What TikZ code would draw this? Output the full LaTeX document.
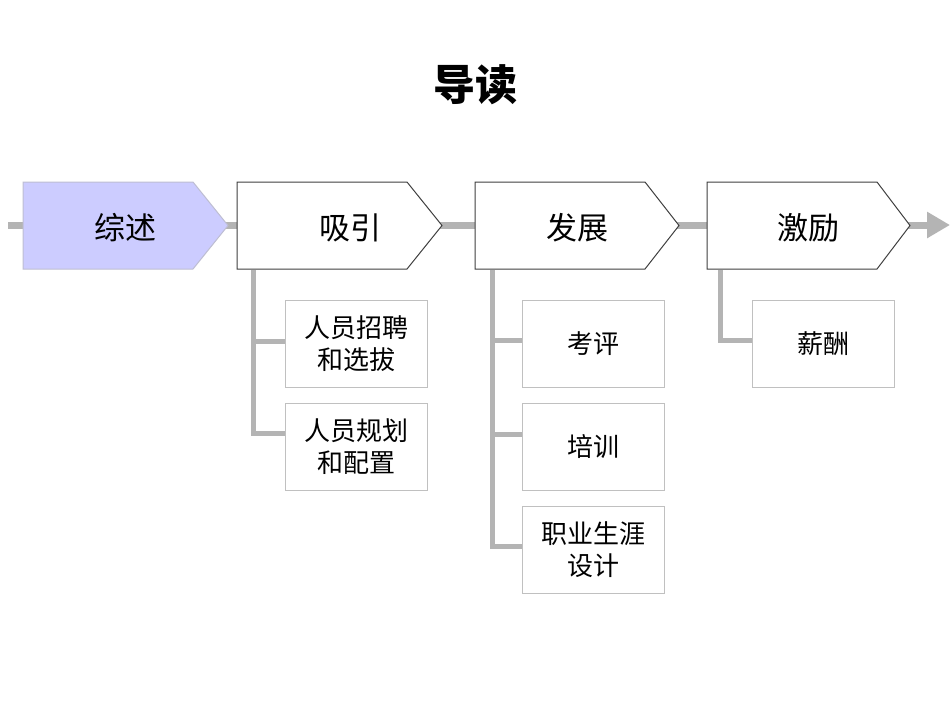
\documentclass[tikz,border=0pt]{standalone}
\usepackage{fontspec}
\setmainfont{Noto Sans CJK SC}
\usetikzlibrary{arrows.meta}
\definecolor{lineg}{RGB}{180,180,180}
\definecolor{lav}{RGB}{204,204,255}
\definecolor{lavedge}{RGB}{190,190,210}
\definecolor{darkedge}{RGB}{64,64,64}
\definecolor{subedge}{RGB}{192,192,192}
\begin{document}
\begin{tikzpicture}[x=1pt,y=-1pt,
  mainline/.style={draw=lineg,line width=7pt},
  branchline/.style={draw=lineg,line width=5pt},
  stagebox/.style={draw=darkedge,fill=white,line width=1pt},
  firstbox/.style={draw=lavedge,fill=lav,line width=1pt},
  stagetext/.style={font=\fontsize{31}{34}\selectfont,inner sep=0pt},
  subbox/.style={draw=subedge,fill=white,line width=0.8pt,minimum width=142pt,minimum height=87pt,inner sep=0pt,align=center,font=\fontsize{26}{32}\selectfont},
  titletext/.style={font=\fontsize{42}{46}\selectfont\bfseries,inner sep=0pt}]
\useasboundingbox (0,0) rectangle (950,713);
\fill[white] (0,0) rectangle (950,713);
% title
\node[titletext] (title) at (475,85) {导读};
% main line
\coordinate (start) at (8,225);
\coordinate (end) at (950,225);
\draw[mainline,-{Triangle[length=23pt,width=25pt]}] (start) -- (end);
% stage shapes
\path[firstbox] (23,182) -- (193,182) -- (228,225.5) -- (193,269) -- (23,269) -- cycle;
\path[stagebox] (237,182) -- (407,182) -- (442,225.5) -- (407,269) -- (237,269) -- cycle;
\path[stagebox] (475,182) -- (645,182) -- (679,225.5) -- (645,269) -- (475,269) -- cycle;
\path[stagebox] (707,182) -- (877,182) -- (910,225.5) -- (877,269) -- (707,269) -- cycle;
\node[stagetext] (s1) at (125,228) {综述};
\node[stagetext] (s2) at (350,228) {吸引};
\node[stagetext] (s3) at (577,228) {发展};
\node[stagetext] (s4) at (808,228) {激励};
% sub boxes
\node[subbox] (a1) at (356,343.5) {人员招聘\\和选拔};
\node[subbox] (a2) at (356,447) {人员规划\\和配置};
\node[subbox] (b1) at (593.5,344) {考评};
\node[subbox] (b2) at (593.5,447) {培训};
\node[subbox] (b3) at (593.5,550) {职业生涯\\设计};
\node[subbox] (c1) at (823,343.5) {薪酬};
% branch coordinates
\coordinate (v1top) at (253,270);
\coordinate (v2top) at (492,270);
\coordinate (v3top) at (720,270);
% branches
\draw[branchline] (v1top) |- (a2.west |- 0,433);
\draw[branchline] (253,341) -- (a1.west |- 0,341);
\draw[branchline] (v2top) |- (b3.west |- 0,546);
\draw[branchline] (492,340) -- (b1.west |- 0,340);
\draw[branchline] (492,434) -- (b2.west |- 0,434);
\draw[branchline] (v3top) |- (c1.west |- 0,340);
\end{tikzpicture}
\end{document}
